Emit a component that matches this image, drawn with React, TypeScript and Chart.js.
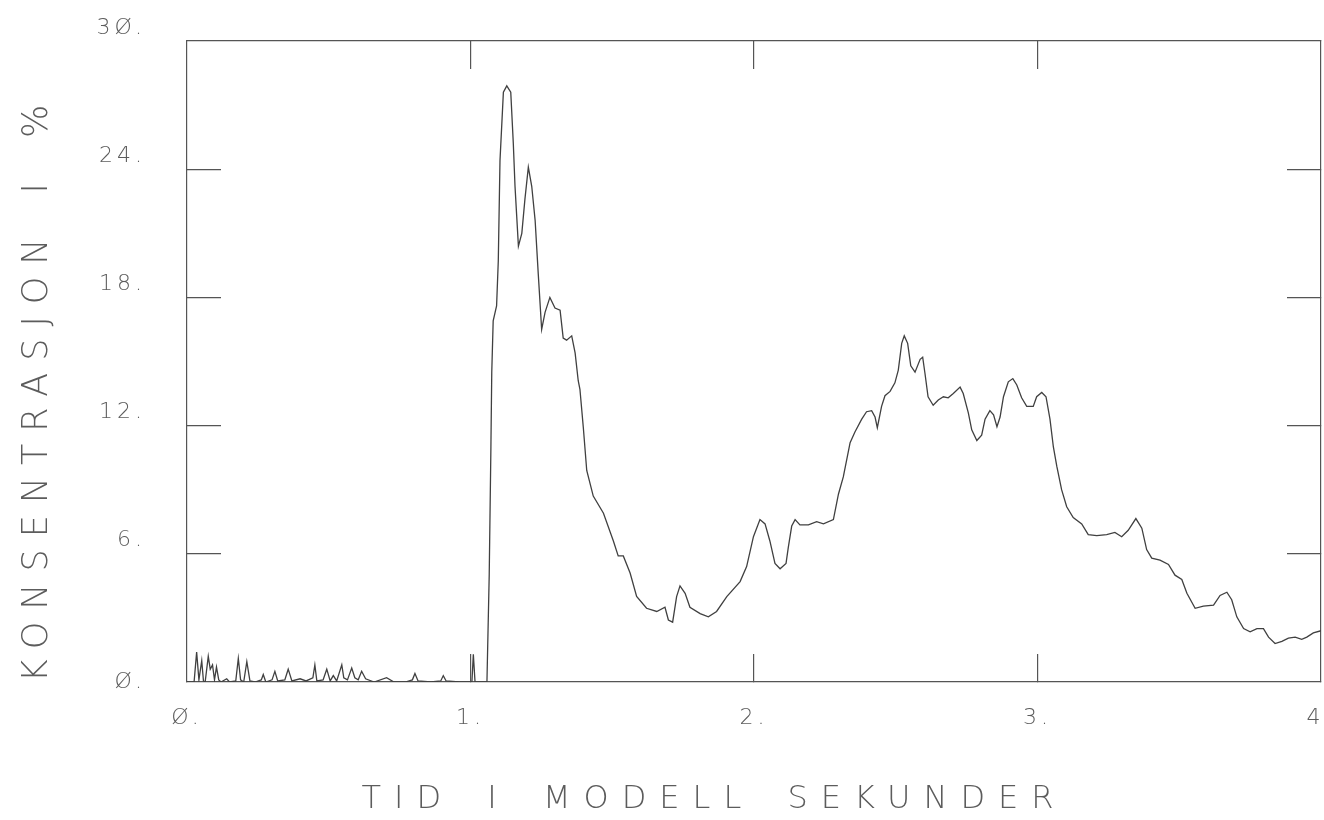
import React, { useEffect, useRef } from "react";
import { Chart, registerables } from "chart.js";

Chart.register(...registerables);

// Time in model seconds (x) and concentration in percent (y)
const timeSeconds = [
  0.0, 0.025, 0.034, 0.042, 0.052, 0.058, 0.064, 0.075, 0.082, 0.09, 0.097, 0.104, 0.112, 0.12,
  0.14, 0.15, 0.172, 0.181, 0.189, 0.2, 0.211, 0.222, 0.24, 0.262, 0.269, 0.278, 0.3, 0.31,
  0.32, 0.345, 0.357, 0.37, 0.399, 0.42, 0.444, 0.451, 0.458, 0.48, 0.493, 0.505, 0.516, 0.528,
  0.546, 0.553, 0.566, 0.581, 0.592, 0.604, 0.616, 0.63, 0.66, 0.704, 0.73, 0.77, 0.795, 0.804,
  0.815, 0.86, 0.895, 0.904, 0.914, 0.96, 1.005, 1.01, 1.016, 1.05, 1.058,
  1.066, 1.072, 1.075, 1.08, 1.092, 1.098, 1.104, 1.116, 1.128, 1.142, 1.151, 1.157, 1.163,
  1.169, 1.181, 1.192, 1.204, 1.216, 1.228, 1.239, 1.251, 1.263, 1.28, 1.298, 1.316, 1.327,
  1.339, 1.357, 1.369, 1.38, 1.386, 1.398, 1.41, 1.433, 1.469, 1.504, 1.521, 1.539, 1.563,
  1.586, 1.621, 1.657, 1.686, 1.698, 1.713, 1.727, 1.739, 1.757, 1.774, 1.81, 1.839, 1.868,
  1.904, 1.951, 1.974, 1.998, 2.021, 2.039, 2.056, 2.074, 2.092, 2.113, 2.121, 2.133, 2.145,
  2.162, 2.192, 2.221, 2.245, 2.28, 2.298, 2.315, 2.339, 2.356, 2.38, 2.397, 2.415, 2.427,
  2.435, 2.45, 2.462, 2.48, 2.497, 2.509, 2.521, 2.53, 2.542, 2.553, 2.568, 2.586, 2.595,
  2.603, 2.614, 2.632, 2.65, 2.668, 2.685, 2.703, 2.727, 2.738, 2.756, 2.768, 2.786, 2.803,
  2.815, 2.832, 2.845, 2.857, 2.868, 2.88, 2.897, 2.913, 2.927, 2.944, 2.962, 2.985, 2.997,
  3.015, 3.03, 3.044, 3.056, 3.068, 3.085, 3.103, 3.126, 3.156, 3.179, 3.209, 3.244, 3.273,
  3.297, 3.32, 3.347, 3.368, 3.385, 3.403, 3.432, 3.462, 3.485, 3.509, 3.527, 3.556, 3.585,
  3.621, 3.644, 3.668, 3.685, 3.703, 3.727, 3.75, 3.774, 3.797, 3.815, 3.838, 3.862, 3.885,
  3.909, 3.932, 3.95, 3.973, 4.0,
];

const concentrationPercent = [
  0.0, 0.0, 1.4, 0.1, 1.0, 0.05, 0.0, 1.2, 0.6, 0.8, 0.1, 0.7, 0.1, 0.0,
  0.15, 0.0, 0.05, 1.1, 0.1, 0.0, 0.95, 0.05, 0.0, 0.1, 0.35, 0.0, 0.1, 0.5,
  0.05, 0.1, 0.6, 0.05, 0.15, 0.05, 0.2, 0.8, 0.05, 0.1, 0.6, 0.05, 0.3, 0.05,
  0.8, 0.2, 0.1, 0.65, 0.2, 0.1, 0.5, 0.15, 0.0, 0.2, 0.0, 0.0, 0.1, 0.4,
  0.05, 0.0, 0.05, 0.3, 0.05, 0.0, 0.0, 1.3, 0.0, 0.0, 0.0,
  5.0, 11.0, 14.5, 16.9, 17.6, 19.7, 24.4, 27.6, 27.9, 27.6, 25.2, 23.2, 21.8,
  20.4, 21.0, 22.6, 24.1, 23.2, 21.6, 19.1, 16.5, 17.3, 18.0, 17.5, 17.4, 16.1,
  16.0, 16.2, 15.4, 14.1, 13.7, 11.9, 9.9, 8.7, 7.9, 6.6, 5.9, 5.9, 5.1,
  4.0, 3.45, 3.3, 3.5, 2.9, 2.8, 4.0, 4.5, 4.15, 3.5, 3.2, 3.05, 3.3,
  4.0, 4.7, 5.4, 6.8, 7.6, 7.4, 6.6, 5.55, 5.3, 5.55, 6.3, 7.3, 7.6,
  7.35, 7.35, 7.5, 7.4, 7.6, 8.8, 9.6, 11.2, 11.7, 12.3, 12.65, 12.7, 12.4,
  11.9, 12.9, 13.4, 13.6, 14.0, 14.6, 15.85, 16.2, 15.85, 14.8, 14.5, 15.1, 15.2,
  14.45, 13.35, 12.95, 13.2, 13.35, 13.3, 13.5, 13.8, 13.5, 12.6, 11.8, 11.3, 11.55,
  12.3, 12.7, 12.5, 11.95, 12.4, 13.35, 14.05, 14.2, 13.9, 13.3, 12.9, 12.9, 13.35,
  13.55, 13.35, 12.3, 11.0, 10.1, 9.0, 8.2, 7.7, 7.4, 6.9, 6.85, 6.9, 7.0,
  6.8, 7.1, 7.65, 7.2, 6.2, 5.8, 5.7, 5.5, 5.0, 4.8, 4.15, 3.45, 3.55,
  3.6, 4.05, 4.2, 3.85, 3.05, 2.5, 2.35, 2.5, 2.5, 2.1, 1.8, 1.9, 2.05,
  2.1, 2.0, 2.1, 2.3, 2.4,
];

const xTickValues = [0, 1, 2, 3, 4];
const yTickValues = [0, 6, 12, 18, 24, 30];
const xAxisTitle = "TID I MODELL SEKUNDER";
const yAxisTitle = "KONSENTRASJON I %";

const AXIS_COLOR = "#555555";
const TEXT_COLOR = "#5c5c5c";
const LINE_COLOR = "#404040";
const FONT_FAMILY = "'DejaVu Sans', 'Liberation Sans', sans-serif";

function plotterNumber(v: number): string {
  return String(v).replace(/0/g, "Ø") + ".";
}

const plotterTextPlugin = {
  id: "plotterText",
  beforeDraw(chart: any) {
    chart.ctx.letterSpacing = "4px";
  },
  afterDraw(chart: any) {
    const { ctx, chartArea } = chart;
    ctx.save();
    ctx.fillStyle = TEXT_COLOR;
    ctx.textAlign = "center";
    ctx.textBaseline = "alphabetic";

    ctx.letterSpacing = "13px";
    (ctx as any).wordSpacing = "10px";
    ctx.font = `200 32px ${FONT_FAMILY}`;
    const cx = (chartArea.left + chartArea.right) / 2 - 40;
    ctx.fillText(xAxisTitle, cx, chartArea.bottom + 126);

    ctx.translate(chartArea.left - 140, (chartArea.top + chartArea.bottom) / 2 + 26);
    ctx.rotate(-Math.PI / 2);
    ctx.letterSpacing = "12px";
    (ctx as any).wordSpacing = "10px";
    ctx.font = `200 35px ${FONT_FAMILY}`;
    ctx.fillText(yAxisTitle, 0, 0);
    ctx.restore();
    ctx.letterSpacing = "0px";
    (ctx as any).wordSpacing = "0px";
  },
};

export default function App() {
  const canvasRef = useRef<HTMLCanvasElement | null>(null);

  useEffect(() => {
    if (!canvasRef.current) return;
    const points = timeSeconds.map((t, i) => ({ x: t, y: concentrationPercent[i] }));

    const tickFont = { family: FONT_FAMILY, size: 22, weight: "200" as any };
    const hideEnds = (lo: number, hi: number) => (c: any) =>
      c.tick && (c.tick.value === lo || c.tick.value === hi) ? "rgba(0,0,0,0)" : AXIS_COLOR;

    const chart = new Chart(canvasRef.current, {
      type: "line",
      data: {
        datasets: [
          {
            label: "Konsentrasjon",
            data: points,
            borderColor: LINE_COLOR,
            borderWidth: 1.3,
            pointRadius: 0,
            tension: 0,
            fill: false,
            xAxisID: "x",
            yAxisID: "y",
          },
        ],
      },
      options: {
        responsive: false,
        animation: false,
        layout: { padding: { top: 41, right: 3, bottom: 0, left: 0 } },
        plugins: {
          legend: { display: false },
          tooltip: { enabled: false },
          title: { display: false },
        },
        scales: {
          x: {
            type: "linear",
            position: "bottom",
            min: 0,
            max: 4,
            afterBuildTicks: (s: any) => {
              s.ticks = xTickValues.map((v) => ({ value: v }));
            },
            afterFit: (s: any) => {
              s.height = 138;
              s.paddingLeft = 0;
              s.paddingRight = 0;
            },
            grid: {
              drawOnChartArea: false,
              drawTicks: true,
              tickLength: -28,
              color: hideEnds(0, 4),
              lineWidth: 1.2,
            },
            border: { display: true, color: AXIS_COLOR, width: 1.2 },
            ticks: {
              padding: 51,
              color: TEXT_COLOR,
              font: tickFont,
              autoSkip: false,
              maxRotation: 0,
              callback: (v: any) => plotterNumber(Number(v)),
            },
          },
          xTop: {
            type: "linear",
            position: "top",
            min: 0,
            max: 4,
            afterBuildTicks: (s: any) => {
              s.ticks = xTickValues.map((v) => ({ value: v }));
            },
            afterFit: (s: any) => {
              s.height = 0;
              s.paddingLeft = 0;
              s.paddingRight = 0;
            },
            grid: {
              drawOnChartArea: false,
              drawTicks: true,
              tickLength: -28,
              color: hideEnds(0, 4),
              lineWidth: 1.2,
            },
            border: { display: true, color: AXIS_COLOR, width: 1.2 },
            ticks: { display: false },
          },
          y: {
            type: "linear",
            position: "left",
            min: 0,
            max: 30,
            afterBuildTicks: (s: any) => {
              s.ticks = yTickValues.map((v) => ({ value: v }));
            },
            afterFit: (s: any) => {
              s.width = 187;
              s.paddingTop = 0;
              s.paddingBottom = 0;
            },
            grid: {
              drawOnChartArea: false,
              drawTicks: true,
              tickLength: -34,
              color: hideEnds(0, 30),
              lineWidth: 1.2,
            },
            border: { display: true, color: AXIS_COLOR, width: 1.2 },
            ticks: {
              padding: 75,
              color: TEXT_COLOR,
              font: tickFont,
              autoSkip: false,
              callback: (v: any) => {
                const n = Number(v);
                return n === 0 ? plotterNumber(n) : [plotterNumber(n), ""];
              },
            },
          },
          yRight: {
            type: "linear",
            position: "right",
            min: 0,
            max: 30,
            afterBuildTicks: (s: any) => {
              s.ticks = yTickValues.map((v) => ({ value: v }));
            },
            afterFit: (s: any) => {
              s.width = 0;
              s.paddingTop = 0;
              s.paddingBottom = 0;
            },
            grid: {
              drawOnChartArea: false,
              drawTicks: true,
              tickLength: -34,
              color: hideEnds(0, 30),
              lineWidth: 1.2,
            },
            border: { display: true, color: AXIS_COLOR, width: 1.2 },
            ticks: { display: false },
          },
        },
      } as any,
      plugins: [plotterTextPlugin],
    });

    return () => chart.destroy();
  }, []);

  return (
    <div
      style={{
        position: "fixed",
        left: 0,
        top: 0,
        width: 1324,
        height: 820,
        background: "#ffffff",
      }}
    >
      <canvas ref={canvasRef} width={1324} height={820} />
    </div>
  );
}
